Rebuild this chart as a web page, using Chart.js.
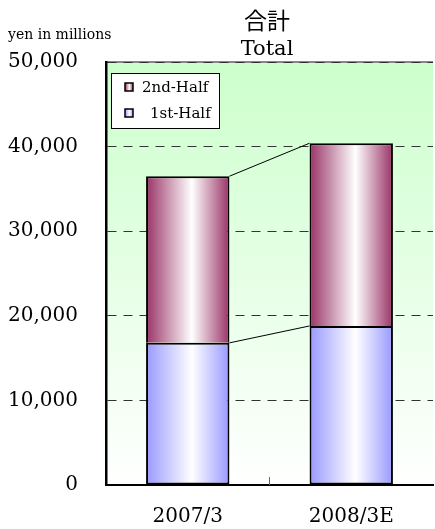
<!DOCTYPE html>
<html>
<head>
<meta charset="utf-8">
<script src="https://cdn.jsdelivr.net/npm/chart.js@4"></script>
<style>
  html, body { margin: 0; padding: 0; background: #fff; }
  #wrap { width: 435px; height: 529px; }
</style>
</head>
<body>
<div id="wrap"><canvas id="myChart" width="435" height="529"></canvas></div>
<script>
var categories = ['2007/3', '2008/3E'];
var firstHalf = [16800, 18800];
var secondHalf = [19700, 21600];
var yTicks = [0, 10000, 20000, 30000, 40000, 50000];
var titleLines = ['合計', 'Total'];
var unitLabel = 'yen in millions';
var legendLabels = ['2nd-Half', '1st-Half'];
var edgeColors = ['#9999ff', '#993366'];

var serif = '"DejaVu Serif", "Liberation Serif", "Noto Sans CJK JP", serif';
var cjk = '"Noto Sans CJK JP", "DejaVu Serif", serif';

function hGradient(c, x0, w, edge) {
    var g = c.createLinearGradient(x0, 0, x0 + w, 0);
    g.addColorStop(0, edge);
    g.addColorStop(0.55, '#ffffff');
    g.addColorStop(1, edge);
    return g;
}

// green-to-white background of plot area
var plotBg = {
    id: 'plotBg',
    beforeDraw: function (chart) {
        var a = chart.chartArea, c = chart.ctx;
        var g = c.createLinearGradient(0, a.top, 0, a.bottom);
        g.addColorStop(0, '#ccffcc');
        g.addColorStop(1, '#ffffff');
        c.save();
        c.fillStyle = g;
        c.fillRect(a.left, a.top, a.right - a.left, a.bottom - a.top);
        c.strokeStyle = '#888';
        c.lineWidth = 2;
        c.beginPath();
        c.moveTo(a.left, a.top);
        c.lineTo(a.right, a.top);
        c.stroke();
        c.restore();
    },
    // cylinder shading for every bar (own options copy per bar)
    beforeDatasetsDraw: function (chart) {
        var c = chart.ctx;
        [0, 1].forEach(function (d) {
            chart.getDatasetMeta(d).data.forEach(function (el) {
                var o = Object.assign({}, el.options);
                o.backgroundColor = hGradient(c, el.x - el.width / 2, el.width, edgeColors[d]);
                el.options = o;
            });
        });
    }
};

// connector lines between bar tops, titles, legend
var extras = {
    id: 'extras',
    afterDatasetsDraw: function (chart) {
        var c = chart.ctx;
        c.save();
        c.strokeStyle = '#000';
        c.lineWidth = 1;
        [0, 1].forEach(function (d) {
            var m = chart.getDatasetMeta(d).data;
            var a = m[0], b = m[1];
            c.beginPath();
            c.moveTo(a.x + a.width / 2, a.y);
            c.lineTo(b.x - b.width / 2, b.y);
            c.stroke();
        });
        c.restore();
    },
    afterDraw: function (chart) {
        var c = chart.ctx, a = chart.chartArea;
        c.save();
        c.fillStyle = '#000';
        c.textAlign = 'center';
        c.textBaseline = 'middle';
        c.font = '23px ' + cjk;
        c.fillText(titleLines[0], 267, 20);
        c.font = '21px ' + serif;
        c.fillText(titleLines[1], 267, 50);
        c.textAlign = 'left';
        c.font = '14px ' + serif;
        c.fillText(unitLabel, 8, 35);

        // legend box
        c.fillStyle = '#fff';
        c.fillRect(111, 73, 108, 55);
        c.strokeStyle = '#000';
        c.lineWidth = 1;
        c.strokeRect(111.5, 73.5, 108, 55);
        var edges = [edgeColors[1], edgeColors[0]];
        for (var i = 0; i < 2; i++) {
            var y = 87 + i * 26;
            c.fillStyle = hGradient(c, 125, 8, edges[i]);
            c.fillRect(125, y - 4, 8, 8);
            c.lineWidth = 1.5;
            c.strokeRect(125, y - 4, 8, 8);
            c.fillStyle = '#000';
            c.font = '15px ' + serif;
            c.fillText(legendLabels[i], i === 0 ? 142 : 150, y + 1);
        }

        // category divider tick on x axis
        var mid = (a.left + a.right) / 2;
        c.strokeStyle = '#666';
        c.lineWidth = 1;
        c.beginPath();
        c.moveTo(mid, a.bottom);
        c.lineTo(mid, a.bottom - 8);
        c.stroke();
        c.restore();
    }
};

var ctx = document.getElementById('myChart').getContext('2d');
var myChart = new Chart(ctx, {
    type: 'bar',
    data: {
        labels: categories,
        datasets: [
            {
                label: '1st-Half',
                data: firstHalf,
                backgroundColor: edgeColors[0],
                borderColor: '#000',
                borderWidth: 2,
                borderSkipped: false,
                barPercentage: 0.51,
                categoryPercentage: 1
            },
            {
                label: '2nd-Half',
                data: secondHalf,
                backgroundColor: edgeColors[1],
                borderColor: '#000',
                borderWidth: 2,
                borderSkipped: 'start',
                barPercentage: 0.51,
                categoryPercentage: 1
            }
        ]
    },
    options: {
        responsive: false,
        animation: false,
        layout: { padding: { top: 62, right: 2, left: 0, bottom: 0 } },
        plugins: {
            legend: { display: false },
            tooltip: { enabled: false },
            title: { display: false }
        },
        scales: {
            x: {
                stacked: true,
                grid: { display: false, drawTicks: false },
                border: { color: '#000', width: 2 },
                ticks: { color: '#000', font: { family: serif, size: 20 }, padding: 20 },
                afterFit: function (s) { s.height = 44; }
            },
            y: {
                stacked: true,
                min: 0,
                max: 50000,
                afterBuildTicks: function (s) {
                    s.ticks = yTicks.map(function (v) { return { value: v }; });
                },
                grid: {
                    drawTicks: false,
                    color: function (c) { return c.tick.value === 0 ? 'rgba(0,0,0,0)' : '#333'; },
                    lineWidth: 1
                },
                border: { color: '#000', width: 2.5, dash: [9, 7] },
                ticks: {
                    color: '#000',
                    padding: 28,
                    font: { family: serif, size: 20 },
                    callback: function (v) { return v.toLocaleString('en-US'); }
                },
                afterFit: function (s) { s.width = 106; }
            }
        }
    },
    plugins: [plotBg, extras]
});
</script>
</body>
</html>
